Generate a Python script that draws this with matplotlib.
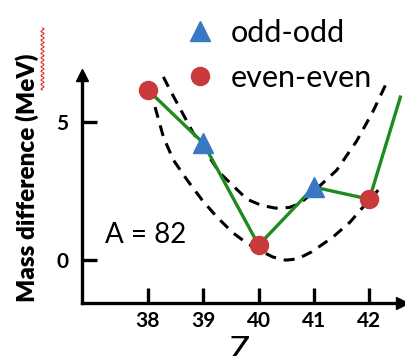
import numpy as np
import matplotlib
matplotlib.use("Agg")
import matplotlib.pyplot as plt
from matplotlib.lines import Line2D

plt.rcParams['font.family'] = ['Lato', 'DejaVu Sans']

# measured points (Z, mass difference in MeV)
z_even = [38, 40, 42]
m_even = [6.15, 0.54, 2.2]
z_odd = [39, 41]
m_odd = [4.23, 2.64]

# green connecting line, runs on past Z=42
z_line = [38, 39, 40, 41, 42, 42.56]
m_line = [6.15, 4.23, 0.54, 2.64, 2.2, 5.89]

# dashed guide curves
z_upper = [38.28, 38.40, 38.82, 39.30, 39.79, 40.05, 40.30, 40.55, 40.75, 40.98, 41.41, 41.77, 42.06, 42.31]
m_upper = [6.62, 6.15, 4.59, 3.15, 2.20, 1.98, 1.88, 1.90, 2.05, 2.45, 3.25, 4.30, 5.35, 6.40]
z_lower = [38.13, 38.28, 38.46, 38.71, 38.98, 39.25, 39.54, 39.79, 40.05, 40.26, 40.49, 40.70, 40.96, 41.34, 41.65, 41.87, 42.16]
m_lower = [5.53, 4.45, 3.62, 2.89, 2.17, 1.55, 0.98, 0.61, 0.32, 0.11, 0.0, 0.04, 0.30, 0.83, 1.37, 1.88, 2.53]

xticks = [38, 39, 40, 41, 42]
yticks = [0, 5]

green = '#1f8a1f'
red = '#c93a3a'
blue = '#3b78c4'

fig = plt.figure(figsize=(4.06, 3.56), dpi=100)
ax = fig.add_axes([82/406, 53/356, 320/406, 228/356])

ax.plot(z_upper, m_upper, '--', color='black', lw=2.2, dashes=(3.6, 2.6), clip_on=False)
ax.plot(z_lower, m_lower, '--', color='black', lw=2.2, dashes=(3.6, 2.6), clip_on=False)
ax.plot(z_line, m_line, '-', color=green, lw=2.4, clip_on=False)
ax.plot(z_odd, m_odd, '^', color=blue, ms=14, mec=blue, label='odd-odd', clip_on=False)
ax.plot(z_even, m_even, 'o', color=red, ms=13, mec=red, label='even-even', clip_on=False)

ax.set_xlim(36.81, 42.59)
ax.set_ylim(-1.55, 6.69)

for s in ['top', 'right']:
    ax.spines[s].set_visible(False)
for s in ['left', 'bottom']:
    ax.spines[s].set_linewidth(2.4)
ax.plot(1, 0, '>k', ms=9, transform=ax.transAxes, clip_on=False)
ax.plot(0, 1, '^k', ms=9, transform=ax.transAxes, clip_on=False)

ax.set_xticks(xticks)
ax.set_yticks(yticks)
ax.tick_params(direction='in', length=11, width=2.4, labelsize=15, pad=6)
ax.tick_params(axis='y', pad=10)
for lbl in ax.get_xticklabels() + ax.get_yticklabels():
    lbl.set_fontweight('bold')

ax.set_xlabel('Z', fontsize=24)
ax.xaxis.set_label_coords(0.49, -0.145)
ax.set_ylabel('Mass difference (MeV)', fontsize=17.5, fontweight='heavy')
ax.yaxis.set_label_coords(-0.133, 0.55)

ax.text(37.23, 0.61, 'A = 82', fontsize=20, va='baseline', ha='left')

fig.legend(loc='upper left', bbox_to_anchor=(186/406, 1 - 19/356), frameon=False,
           fontsize=22, handlelength=0.9, handletextpad=0.55, labelspacing=0.55,
           borderpad=0, borderaxespad=0)

# red spell-check squiggle under "MeV"
t = np.linspace(0, 1, 200)
fig.add_artist(Line2D((42.5 + 1.5 * np.sin(t * 2 * np.pi * 14)) / 406, (356 - 28 - 62 * t) / 356,
                      color='#e03030', lw=0.8, zorder=5))

fig.savefig('out.png', dpi=100)
